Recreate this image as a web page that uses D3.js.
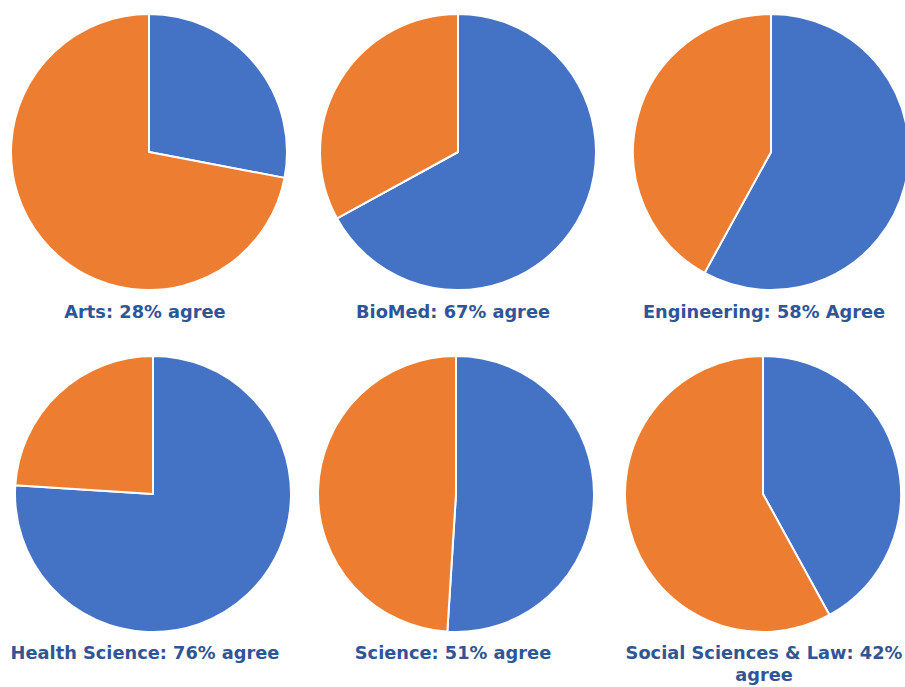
<!DOCTYPE html>
<html><head><meta charset="utf-8">
<script src="https://cdn.jsdelivr.net/npm/d3@7"></script>
<style>body{margin:0;background:#fff;}svg{display:block;}</style>
</head><body>
<svg id="c" width="905" height="687"></svg>
<script>
const categories = ["Arts","BioMed","Engineering","Health Science","Science","Social Sciences & Law"];
const agreePct = [28, 67, 58, 76, 51, 42];
const labelLines = [["Arts: 28% agree"],["BioMed: 67% agree"],["Engineering: 58% Agree"],["Health Science: 76% agree"],["Science: 51% agree"],["Social Sciences & Law: 42%","agree"]];
const colors = ["#4472C4","#ED7D31"];

const svg = d3.select("#c");
const cx = d3.scaleOrdinal().domain([0,1,2]).range([149,458,771]);
const cxB = d3.scaleOrdinal().domain([0,1,2]).range([153,456,763]);
const cy = d3.scaleOrdinal().domain([0,1]).range([152,494]);
const lx = [145,453,764,145,453,764];
const ly = [318,318,318,659,659,659];
const R = 138;

const pie = d3.pie().sort(null).value(d=>d);
const arc = d3.arc().innerRadius(0).outerRadius(R);

categories.forEach((cat,i)=>{
  const row = Math.floor(i/3), col = i%3;
  const x = row===0 ? cx(col) : cxB(col);
  const g = svg.append("g").attr("transform",`translate(${x},${cy(row)})`);
  g.selectAll("path").data(pie([agreePct[i], 100-agreePct[i]])).join("path")
    .attr("d",arc).attr("fill",(d,j)=>colors[j])
    .attr("stroke","#fff").attr("stroke-width",2).attr("stroke-linejoin","round");
  const t = svg.append("text").attr("x",lx[i]).attr("y",ly[i])
    .attr("text-anchor","middle").attr("fill","#2F5597")
    .attr("font-family","'DejaVu Sans', sans-serif").attr("font-weight","bold").attr("font-size",17.8);
  labelLines[i].forEach((ln,k)=>{
    t.append("tspan").attr("x",lx[i]).attr("dy",k===0?0:22).text(ln);
  });
});
</script>
</body></html>
